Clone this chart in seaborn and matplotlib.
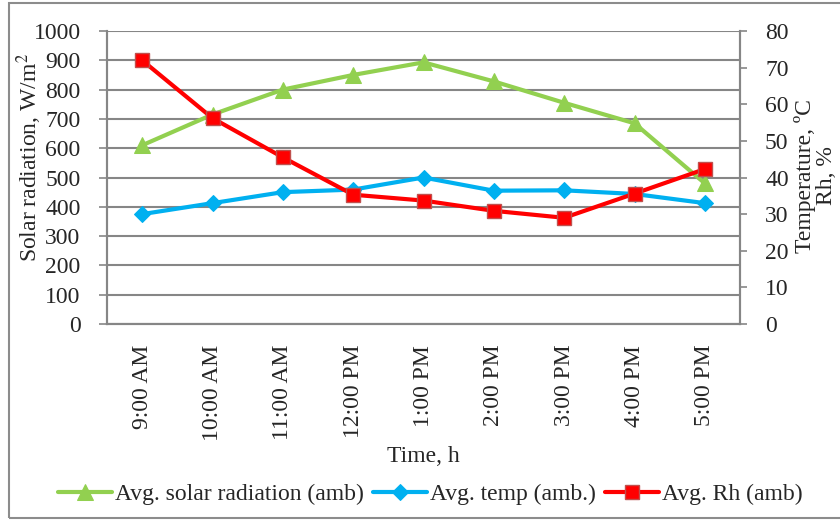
import matplotlib
matplotlib.use("Agg")
import matplotlib.pyplot as plt
import seaborn as sns
import pandas as pd
from matplotlib.patches import Rectangle

# ---- data ----
times = ["9:00 AM", "10:00 AM", "11:00 AM", "12:00 PM", "1:00 PM",
         "2:00 PM", "3:00 PM", "4:00 PM", "5:00 PM"]
solar = [610, 715, 800, 850, 893, 828, 755, 685, 480]
temp = [30.0, 33.0, 36.0, 36.7, 40.0, 36.4, 36.5, 35.5, 33.0]
rh = [72.0, 56.2, 45.5, 35.3, 33.7, 30.9, 29.0, 35.6, 42.3]

left_ticks = list(range(0, 1001, 100))
right_ticks = list(range(0, 81, 10))

df = pd.DataFrame({"pos": range(len(times)), "time": times,
                   "solar": solar, "temp": temp, "rh": rh})

sns.set_style("white")
plt.rcParams["font.family"] = ["Liberation Serif", "DejaVu Serif"]
plt.rcParams["mathtext.fontset"] = "stix"

FS = 17
GRID = "#868686"

fig = plt.figure(figsize=(8.4, 5.21), dpi=100)
ax = fig.add_axes([107 / 840, 1 - 324 / 521, (740 - 107) / 840, (324 - 31) / 521])
ax2 = ax.twinx()

sns.lineplot(data=df, x="pos", y="solar", ax=ax, color="#92D050", lw=3,
             marker="^", markersize=11, markeredgecolor="#92D050",
             label="Avg. solar radiation (amb)", legend=False)
sns.lineplot(data=df, x="pos", y="temp", ax=ax2, color="#00B0F0", lw=3,
             marker="D", markersize=8, markeredgecolor="#00B0F0",
             label="Avg. temp (amb.)", legend=False)
sns.lineplot(data=df, x="pos", y="rh", ax=ax2, color="#FF0000", lw=3,
             marker="s", markersize=10, markeredgecolor="#C0504D",
             markeredgewidth=1, label="Avg. Rh (amb)", legend=False)

# axes limits / ticks
ax.set_xlim(-0.5, len(times) - 0.5)
ax.set_ylim(0, 1000)
ax2.set_ylim(0, 80)
ax.set_yticks(left_ticks)
ax2.set_yticks(right_ticks)
ax.set_xticks(df["pos"])
ax.set_xticklabels(times, rotation=90, fontsize=FS)
ax.set_xticks([p - 0.5 for p in range(len(times) + 1)], minor=True)
ax.tick_params(axis="x", which="major", length=0, pad=15)
ax.tick_params(axis="x", which="minor", length=5, width=1.2, color=GRID, direction="out")
ax.tick_params(axis="y", length=6, width=1.2, color=GRID, direction="out",
               labelsize=FS, pad=13, left=True)
ax2.tick_params(axis="y", length=5, width=1.2, color=GRID, direction="out",
                labelsize=FS, pad=13, right=True)

ax.yaxis.grid(True, color=GRID, lw=1.5)
ax.xaxis.grid(False)
ax2.grid(False)

for a in (ax, ax2):
    for s in a.spines.values():
        s.set_color(GRID)
        s.set_linewidth(1.5)
    a.spines["top"].set_visible(False)

ax.set_xlabel("")
ax.set_ylabel("")
ax2.set_ylabel("")

fig.text(29 / 840, 1 - 157 / 521, "Solar radiation, W/m$^2$", rotation=90,
         ha="center", va="center", fontsize=FS)
fig.text(815 / 840, 1 - 176 / 521, "Temperature, ºC\nRh, %", rotation=90,
         ha="center", va="center", fontsize=FS, linespacing=1.0,
         multialignment="center")
fig.text(423 / 840, 1 - 457 / 521, "Time, h", ha="center", va="center", fontsize=FS)

handles = ax.get_lines()[:1] + ax2.get_lines()[:2]
labels = ["Avg. solar radiation (amb)", "Avg. temp (amb.)", "Avg. Rh (amb)"]
fig.legend(handles, labels, loc="center", bbox_to_anchor=(430 / 840, 1 - 494 / 521),
           ncol=3, frameon=False, fontsize=FS, handlelength=2.3,
           handletextpad=0.1, columnspacing=0.4, borderaxespad=0)

fig.patches.append(Rectangle((9 / 840, 3 / 521), 1.0, 515 / 521,
                             transform=fig.transFigure, fill=False,
                             edgecolor="#8C8C8C", lw=1.5))

fig.savefig("out.png", dpi=100)
